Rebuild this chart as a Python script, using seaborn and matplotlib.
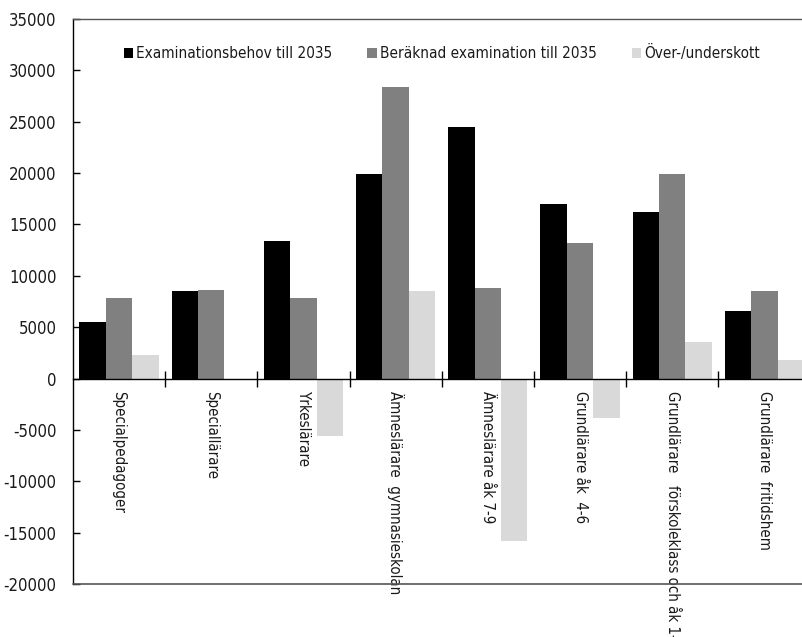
import matplotlib
matplotlib.use("Agg")
import matplotlib.pyplot as plt
import seaborn as sns
import pandas as pd
import numpy as np

categories = ["Specialpedagoger", "Speciallärare", "Yrkeslärare",
              "Ämneslärare  gymnasieskolan", "Ämneslärare åk 7-9",
              "Grundlärare åk  4-6", "Grundlärare   förskoleklass och åk 1-3",
              "Grundlärare  fritidshem"]
series_names = ["Examinationsbehov till 2035", "Beräknad examination till 2035",
                "Över-/underskott"]
behov = [5500, 8500, 13400, 19900, 24500, 17000, 16200, 6600]
beraknad = [7800, 8600, 7800, 28400, 8800, 13200, 19900, 8500]
over_under = [2300, 0, -5600, 8500, -15800, -3800, 3600, 1800]
yticks = [-20000, -15000, -10000, -5000, 0, 5000, 10000, 15000, 20000, 25000, 30000, 35000]

colors = ["#000000", "#808080", "#d9d9d9"]

rows = []
for vals, name in zip([behov, beraknad, over_under], series_names):
    for c, v in zip(categories, vals):
        rows.append({"cat": c, "serie": name, "value": v})
df = pd.DataFrame(rows)

sns.set_style("white")
plt.rcParams['font.family'] = ['DejaVu Sans']
plt.rcParams['font.stretch'] = 'condensed'
plt.rcParams['text.color'] = '#1a1a1a'
plt.rcParams['xtick.labelcolor'] = '#1a1a1a'
plt.rcParams['ytick.labelcolor'] = '#1a1a1a'

fig = plt.figure(figsize=(8.02, 6.37), dpi=100)
ax = fig.add_axes([73/802, 1-584/637, (810.5-73)/802, (584-19)/637])

sns.barplot(data=df, x="cat", y="value", hue="serie", palette=colors,
            order=categories, hue_order=series_names, width=0.86,
            saturation=1, ax=ax, edgecolor="none")

ax.set_xlim(-0.5, len(categories) - 0.5)
ax.set_ylim(-20000, 35000)
ax.set_yticks(yticks)
ax.set_yticklabels([str(t) for t in yticks], fontsize=12)
ax.tick_params(axis='y', direction='in', length=5, width=1, color='black', pad=12, left=True)

ax.spines['bottom'].set_position(('data', 0))
ax.spines['bottom'].set_color('black')
ax.spines['bottom'].set_linewidth(1.0)
ax.spines['left'].set_color('black')
ax.spines['left'].set_linewidth(1.0)
ax.spines['top'].set_color('#555555')
ax.spines['top'].set_linewidth(1.0)
ax.spines['right'].set_visible(False)
ax.axhline(-20000, color='#555555', lw=1.2, clip_on=False, zorder=5)

ax.set_xticks(np.arange(len(categories)) + 0.5)
ax.set_xticklabels([])
ax.tick_params(axis='x', which='major', direction='inout', length=12, width=1, color='black', bottom=True)
ax.set_xticks(np.arange(len(categories)), minor=True)
ax.set_xticklabels(categories, minor=True, rotation=270, fontsize=10.8, va='top', ha='center')
ax.tick_params(axis='x', which='minor', length=0, pad=9)

ax.set_xlabel("")
ax.set_ylabel("")

leg = ax.legend(loc='upper center', bbox_to_anchor=(0.5, 0.978), ncol=3, frameon=False,
                fontsize=11, handlelength=0.6, handleheight=0.6, handletextpad=0.2,
                columnspacing=2.3)

fig.savefig("out.png", dpi=100)
